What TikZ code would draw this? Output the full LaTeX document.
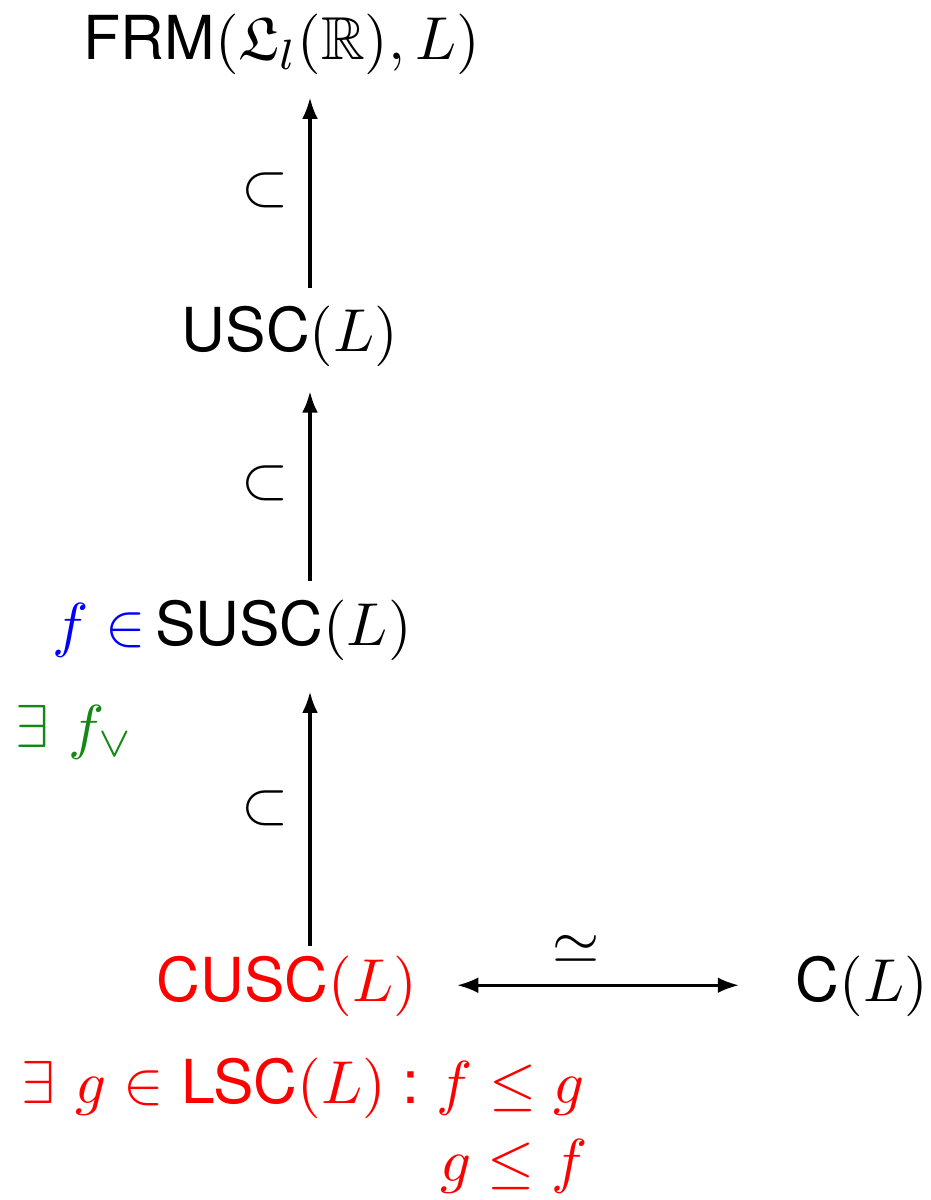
\documentclass[tikz,border=0pt]{standalone}
\usepackage{amsmath,amssymb}
\usepackage[no-math]{fontspec}
\newfontfamily\hv{TeX Gyre Heros}
\usetikzlibrary{arrows.meta}
\newcommand\sfx[1]{\text{\hv #1}}
\definecolor{myblue}{RGB}{0,0,255}
\definecolor{mygreen}{RGB}{20,135,20}
\definecolor{myred}{RGB}{255,0,0}
\begin{document}
\begin{tikzpicture}[x=0.165pt,y=-0.165pt,
  lbl/.style={inner sep=0pt,outer sep=0pt,anchor=base},
  arr/.style={line width=0.5pt,-{Latex[length=3.5pt,width=2.6pt]}},
  darr/.style={line width=0.5pt,{Latex[length=3.5pt,width=2.6pt]}-{Latex[length=3.5pt,width=2.6pt]}}]
\useasboundingbox (0,0) rectangle (931,1200);
\node[lbl] (frm) at (282,60) {$\sfx{FRM}(\mathfrak{L}_l(\mathbb{R}),L)$};
\node[lbl] (usc) at (290,352) {$\sfx{USC}(L)$};
\node[lbl,anchor=base west] (susc) at (155,645) {$\sfx{SUSC}(L)$};
\node[lbl,anchor=base east,myblue] (fin) at ([xshift=-1.5pt]susc.base west) {$f\in$};
\node[lbl,anchor=base west,mygreen] (ex) at (15,747) {$\exists\ f_\vee$};
\node[lbl,myred] (cusc) at (287,1001) {$\sfx{CUSC}(L)$};
\node[lbl] (cl) at (862,1001) {$\sfx{C}(L)$};
\node[lbl,anchor=base west,myred] (g1) at (22,1103) {$\exists\ g \in \sfx{LSC}(L) \mathrel{\sfx{:}} f \le g$};
\node[lbl,anchor=base west,myred] (g2) at (440,1181) {$g \le f$};
\coordinate (ax) at (310,0);
\draw[arr,shorten <=3.1pt,shorten >=3.7pt] (usc.north -| ax) -- node[left]{$\subset$} (frm.south -| ax);
\draw[arr,shorten <=3.1pt,shorten >=4.0pt] (susc.north -| ax) -- node[left]{$\subset$} (usc.south -| ax);
\draw[arr,shorten <=1.6pt,shorten >=5.2pt] (cusc.north -| ax) -- node[left]{$\subset$} (susc.south -| ax);
\draw[darr,shorten <=6.6pt,shorten >=9.4pt] ([yshift=2.6pt]cusc.base east) -- node[above,pos=0.42]{$\simeq$} ([yshift=2.6pt]cl.base west);
\end{tikzpicture}
\end{document}
